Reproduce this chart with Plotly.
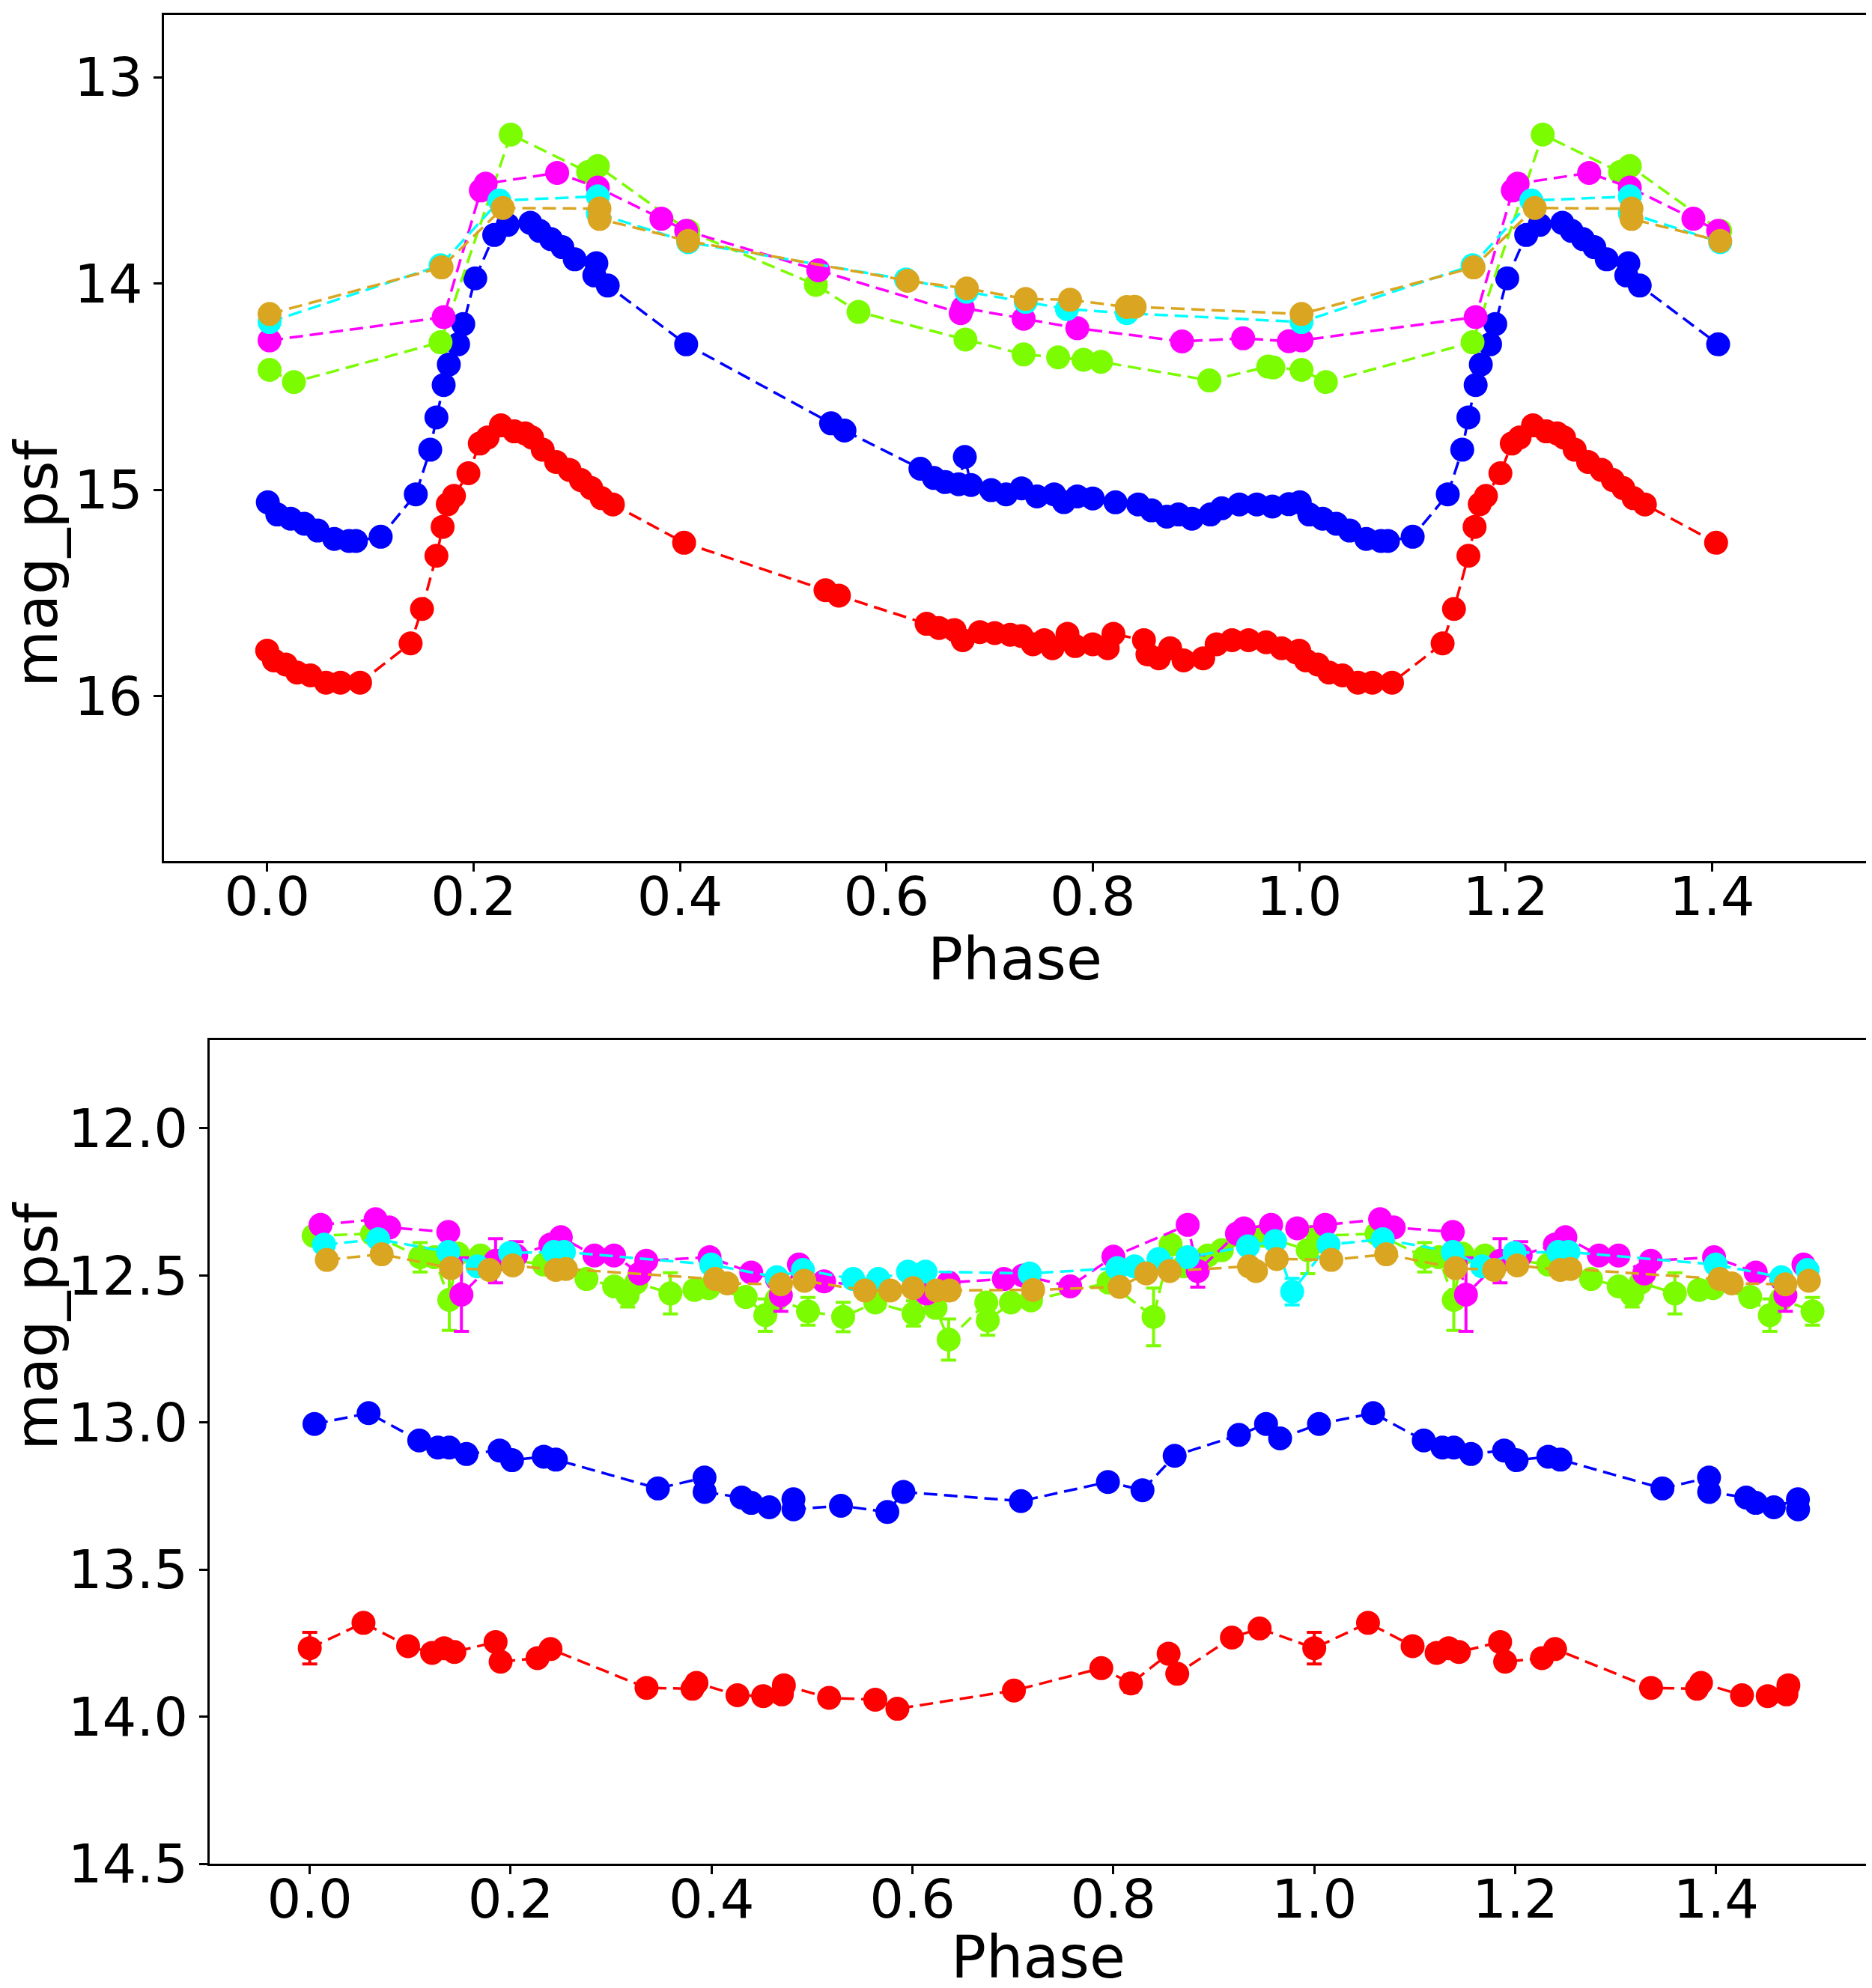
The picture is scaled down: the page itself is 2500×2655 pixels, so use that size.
import plotly.graph_objects as go

# Folded light curves, two stars (top / bottom panel).
# Values read per band for phase 0..1; the first part of the cycle is shown again after 1.0.

# ---- top panel ----
red_top_phase = [0.000, 0.0065, 0.018, 0.029, 0.042, 0.057, 0.071, 0.090, 0.139, 0.150, 0.164, 0.170,
                 0.175, 0.181, 0.195, 0.206, 0.2136, 0.2265, 0.2395, 0.250, 0.2567, 0.267, 0.280, 0.293,
                 0.304, 0.314, 0.324, 0.335, 0.404, 0.541, 0.554, 0.639, 0.651, 0.666, 0.674, 0.6906,
                 0.705, 0.720, 0.731, 0.742, 0.753, 0.761, 0.7755, 0.783, 0.800, 0.8145, 0.820, 0.8496,
                 0.853, 0.864, 0.875, 0.888, 0.907, 0.920, 0.935, 0.951, 0.968, 0.983, 0.997]
red_top_mag = [15.78, 15.827, 15.847, 15.886, 15.90, 15.935, 15.935, 15.935, 15.745, 15.578, 15.32, 15.18,
               15.07, 15.03, 14.92, 14.776, 14.747, 14.688, 14.717, 14.727, 14.747, 14.806, 14.865, 14.904,
               14.953, 14.992, 15.041, 15.071, 15.257, 15.487, 15.513, 15.650, 15.670, 15.680, 15.729, 15.690,
               15.695, 15.703, 15.709, 15.749, 15.729, 15.768, 15.699, 15.758, 15.749, 15.768, 15.699, 15.729,
               15.798, 15.817, 15.768, 15.827, 15.817, 15.749, 15.729, 15.729, 15.739, 15.768, 15.788]

blue_top_phase = [0.0006, 0.0098, 0.0227, 0.036, 0.049, 0.065, 0.0793, 0.086, 0.110, 0.144, 0.158, 0.164,
                  0.171, 0.176, 0.185, 0.190, 0.2016, 0.220, 0.233, 0.255, 0.264, 0.275, 0.286, 0.298,
                  0.317, 0.319, 0.330, 0.406, 0.5464, 0.5594, 0.633, 0.646, 0.657, 0.670, 0.676, 0.682,
                  0.7016, 0.716, 0.731, 0.746, 0.7626, 0.772, 0.785, 0.800, 0.822, 0.844, 0.857, 0.8718,
                  0.883, 0.896, 0.914, 0.925, 0.942, 0.959, 0.974, 0.990]
blue_top_mag = [15.061, 15.12, 15.14, 15.165, 15.198, 15.238, 15.248, 15.248, 15.228, 15.022, 14.806, 14.649,
                14.492, 14.393, 14.295, 14.197, 13.975, 13.765, 13.716, 13.706, 13.745, 13.785, 13.824, 13.883,
                13.961, 13.902, 14.010, 14.295, 14.678, 14.713, 14.898, 14.943, 14.963, 14.973, 14.841, 14.977,
                15.002, 15.022, 14.993, 15.032, 15.022, 15.06, 15.032, 15.042, 15.061, 15.071, 15.10, 15.13,
                15.12, 15.14, 15.12, 15.09, 15.071, 15.071, 15.081, 15.07]

green_top_phase = [0.0023, 0.0259, 0.168, 0.236, 0.311, 0.3204, 0.408, 0.5317, 0.573, 0.6766, 0.733,
                   0.7664, 0.791, 0.808, 0.913, 0.970, 0.975]
green_top_mag = [14.419, 14.478, 14.285, 13.278, 13.46, 13.431, 13.745, 14.007, 14.138, 14.272, 14.344,
                 14.358, 14.37, 14.38, 14.47, 14.403, 14.407]

magenta_top_phase = [0.0023, 0.171, 0.207, 0.2117, 0.281, 0.3204, 0.382, 0.406, 0.534, 0.672, 0.674,
                     0.733, 0.785, 0.8865, 0.9457, 0.990]
magenta_top_mag = [14.276, 14.163, 13.549, 13.516, 13.464, 13.535, 13.686, 13.745, 13.936, 14.144, 14.118,
                   14.171, 14.217, 14.281, 14.266, 14.28]

cyan_top_phase = [0.0023, 0.168, 0.225, 0.3204, 0.3205, 0.408, 0.619, 0.6776, 0.735, 0.775, 0.833]
cyan_top_mag = [14.187, 13.912, 13.598, 13.578, 13.66, 13.80, 13.981, 14.04, 14.089, 14.124, 14.144]

gold_top_phase = [0.0023, 0.169, 0.2283, 0.322, 0.3221, 0.408, 0.6205, 0.678, 0.735, 0.778, 0.833, 0.8406]
gold_top_mag = [14.148, 13.922, 13.634, 13.637, 13.687, 13.794, 13.987, 14.024, 14.075, 14.079, 14.114, 14.113]

# ---- bottom panel ----
red_bot_phase = [0.000, 0.0535, 0.0979, 0.1218, 0.1338, 0.144, 0.185, 0.190, 0.2267, 0.2397, 0.3353, 0.381,
                 0.385, 0.4258, 0.4514, 0.470, 0.472, 0.517, 0.563, 0.585, 0.701, 0.788, 0.8175, 0.855,
                 0.8636, 0.918, 0.9456]
red_bot_mag = [13.767, 13.681, 13.76, 13.783, 13.767, 13.78, 13.746, 13.813, 13.801, 13.77, 13.902, 13.905,
               13.885, 13.927, 13.93, 13.924, 13.893, 13.936, 13.942, 13.973, 13.911, 13.835, 13.887, 13.786,
               13.854, 13.731, 13.700]
red_bot_err = [0.054, 0, 0, 0, 0, 0, 0, 0, 0, 0, 0, 0, 0, 0, 0, 0, 0, 0, 0, 0, 0, 0, 0.03, 0, 0, 0, 0]

blue_bot_phase = [0.0047, 0.0586, 0.109, 0.1276, 0.1389, 0.156, 0.189, 0.2014, 0.233, 0.245, 0.3466, 0.393,
                  0.3931, 0.430, 0.4395, 0.4575, 0.4815, 0.4816, 0.5288, 0.575, 0.591, 0.708, 0.7946, 0.829,
                  0.861, 0.925, 0.952, 0.966]
blue_bot_mag = [13.005, 12.968, 13.061, 13.085, 13.085, 13.107, 13.095, 13.128, 13.116, 13.126, 13.224, 13.187,
                13.236, 13.255, 13.273, 13.288, 13.261, 13.295, 13.283, 13.304, 13.236, 13.267, 13.202, 13.23,
                13.113, 13.042, 13.005, 13.054]
blue_bot_err = [0, 0, 0, 0, 0, 0, 0, 0, 0, 0, 0, 0.025, 0, 0, 0, 0, 0, 0, 0, 0, 0, 0, 0, 0, 0, 0, 0, 0]

green_bot_phase = [0.0039, 0.062, 0.1099, 0.124, 0.1389, 0.1475, 0.170, 0.233, 0.2755, 0.303, 0.3165, 0.325,
                   0.359, 0.383, 0.397, 0.434, 0.4535, 0.465, 0.496, 0.531, 0.563, 0.601, 0.623, 0.636,
                   0.6735, 0.675, 0.698, 0.718, 0.7953, 0.840, 0.857, 0.870, 0.894, 0.908, 0.949, 0.9935]
green_bot_mag = [12.365, 12.358, 12.438, 12.438, 12.583, 12.426, 12.432, 12.463, 12.512, 12.537, 12.567, 12.524,
                 12.561, 12.549, 12.543, 12.573, 12.635, 12.58, 12.622, 12.641, 12.592, 12.629, 12.61, 12.718,
                 12.592, 12.653, 12.592, 12.585, 12.524, 12.641, 12.395, 12.469, 12.432, 12.414, 12.365, 12.414]
green_bot_err = [0, 0, 0.05, 0, 0.104, 0, 0, 0, 0, 0, 0.04, 0,
                 0.07, 0, 0, 0, 0.055, 0, 0.047, 0.05, 0, 0.043, 0, 0.07,
                 0, 0.05, 0, 0, 0, 0.098, 0, 0, 0, 0, 0, 0.08]

magenta_bot_phase = [0.0108, 0.0655, 0.0791, 0.1379, 0.151, 0.185, 0.2055, 0.2396, 0.250, 0.2834, 0.3029,
                     0.3285, 0.335, 0.398, 0.4395, 0.465, 0.469, 0.487, 0.512, 0.614, 0.636, 0.691, 0.710,
                     0.757, 0.800, 0.874, 0.884, 0.923, 0.930, 0.957, 0.983]
magenta_bot_mag = [12.328, 12.309, 12.337, 12.352, 12.565, 12.45, 12.432, 12.395, 12.37, 12.432, 12.432,
                   12.493, 12.45, 12.438, 12.49, 12.512, 12.567, 12.463, 12.52, 12.561, 12.524, 12.512, 12.50,
                   12.537, 12.436, 12.328, 12.485, 12.358, 12.34, 12.328, 12.34]
magenta_bot_err = [0, 0, 0, 0, 0.125, 0.075, 0.047, 0, 0, 0, 0,
                   0, 0, 0, 0, 0, 0.055, 0, 0, 0, 0, 0, 0,
                   0, 0, 0, 0.055, 0, 0, 0, 0]

cyan_bot_phase = [0.0142, 0.0682, 0.1379, 0.167, 0.1994, 0.243, 0.253, 0.3996, 0.465, 0.491, 0.541, 0.566,
                  0.5955, 0.613, 0.7167, 0.804, 0.821, 0.845, 0.874, 0.934, 0.961, 0.978]
cyan_bot_mag = [12.395, 12.377, 12.42, 12.469, 12.423, 12.42, 12.42, 12.463, 12.506, 12.481, 12.512, 12.512,
                12.487, 12.487, 12.493, 12.475, 12.469, 12.444, 12.438, 12.401, 12.383, 12.555]
cyan_bot_err = [0, 0, 0, 0, 0, 0, 0, 0, 0, 0, 0, 0, 0, 0, 0, 0, 0, 0, 0, 0, 0, 0.045]

gold_bot_phase = [0.017, 0.0716, 0.1406, 0.179, 0.2021, 0.245, 0.255, 0.4036, 0.4156, 0.469, 0.4924, 0.5527,
                  0.578, 0.6005, 0.624, 0.637, 0.7201, 0.8063, 0.8327, 0.856, 0.935, 0.942, 0.9626]
gold_bot_mag = [12.447, 12.428, 12.475, 12.481, 12.466, 12.481, 12.478, 12.512, 12.527, 12.53, 12.518, 12.551,
                12.551, 12.543, 12.551, 12.551, 12.549, 12.539, 12.493, 12.485, 12.469, 12.485, 12.444]

x_ticks = [0.0, 0.2, 0.4, 0.6, 0.8, 1.0, 1.2, 1.4]
top_y_ticks = [13, 14, 15, 16]
bot_y_ticks = [12.0, 12.5, 13.0, 13.5, 14.0, 14.5]

FONT = "DejaVu Sans"


def fold(phase, mag, err=None, cut=0.5):
    """Show the cycle once more after phase 1 for the early phases."""
    if err is None:
        err = [0] * len(phase)
    rows = list(zip(phase, mag, err))
    rows += [(p + 1, m, e) for p, m, e in rows if p < cut]
    rows.sort(key=lambda r: r[0])
    return [r[0] for r in rows], [r[1] for r in rows], [r[2] for r in rows]


def add_band(fig, phase, mag, color, err=None, cut=0.5, axis=""):
    x, y, e = fold(phase, mag, err, cut)
    trace = go.Scatter(
        x=x, y=y,
        mode='lines+markers',
        line=dict(color=color, width=3.5, dash='18px,9px'),
        marker=dict(color=color, size=32, line=dict(width=0)),
        xaxis='x' + axis, yaxis='y' + axis,
        showlegend=False,
    )
    if err is not None:
        trace.error_y = dict(type='data', array=e, color=color, thickness=4, width=10)
    fig.add_trace(trace)


fig = go.Figure()

# top panel (cut after phase ~0.41)
add_band(fig, red_top_phase, red_top_mag, '#ff0000', cut=0.45)
add_band(fig, blue_top_phase, blue_top_mag, '#0000ff', cut=0.45)
add_band(fig, green_top_phase, green_top_mag, '#7cfc00', cut=0.45)
add_band(fig, magenta_top_phase, magenta_top_mag, '#ff00ff', cut=0.45)
add_band(fig, cyan_top_phase, cyan_top_mag, '#00ffff', cut=0.45)
add_band(fig, gold_top_phase, gold_top_mag, '#daa520', cut=0.45)

# bottom panel (half a cycle repeated)
add_band(fig, red_bot_phase, red_bot_mag, '#ff0000', red_bot_err, axis='2')
add_band(fig, blue_bot_phase, blue_bot_mag, '#0000ff', blue_bot_err, axis='2')
add_band(fig, green_bot_phase, green_bot_mag, '#7cfc00', green_bot_err, axis='2')
add_band(fig, magenta_bot_phase, magenta_bot_mag, '#ff00ff', magenta_bot_err, axis='2')
add_band(fig, cyan_bot_phase, cyan_bot_mag, '#00ffff', cyan_bot_err, axis='2')
add_band(fig, gold_bot_phase, gold_bot_mag, '#daa520', axis='2')

axis_style = dict(
    showgrid=False, zeroline=False, automargin=False,
    showline=True, mirror=True, linecolor='black', linewidth=3,
    ticks='outside', ticklen=11, tickwidth=2.5, tickcolor='black',
    tickfont=dict(family=FONT, size=72, color='black'),
)

fig.update_layout(
    width=2500, height=2655,
    margin=dict(l=0, r=0, t=0, b=0),
    paper_bgcolor='white', plot_bgcolor='white',
    font=dict(family=FONT, color='black'),
    xaxis=dict(domain=[0.0844, 0.994], range=[-0.1, 1.55], tickvals=x_ticks,
               tickformat='.1f', anchor='y', ticklabelstandoff=-28, **axis_style),
    yaxis=dict(domain=[0.5699, 0.9953], range=[16.8, 12.7], tickvals=top_y_ticks,
               anchor='x', **axis_style),
    xaxis2=dict(domain=[0.1086, 0.994], range=[-0.1, 1.55], tickvals=x_ticks,
                tickformat='.1f', anchor='y2', ticklabelstandoff=-28, **axis_style),
    yaxis2=dict(domain=[0.0655, 0.4798], range=[14.5, 11.7], tickvals=bot_y_ticks,
                tickformat='.1f', anchor='x2', **axis_style),
)

# axis titles placed as in the original figure
title_font = dict(family=FONT, size=78, color='black')
fig.add_annotation(text="mag_psf", x=-0.0025, y=0.7827, xref='paper', yref='paper',
                   textangle=-90, showarrow=False, font=title_font)
fig.add_annotation(text="mag_psf", x=-0.0025, y=0.2727, xref='paper', yref='paper',
                   textangle=-90, showarrow=False, font=title_font)
fig.add_annotation(text="Phase", x=0.539, y=0.5205, xref='paper', yref='paper',
                   showarrow=False, font=title_font)
fig.add_annotation(text="Phase", x=0.5513, y=0.0008, xref='paper', yref='paper',
                   showarrow=False, font=title_font)

fig.write_html("out.html")
